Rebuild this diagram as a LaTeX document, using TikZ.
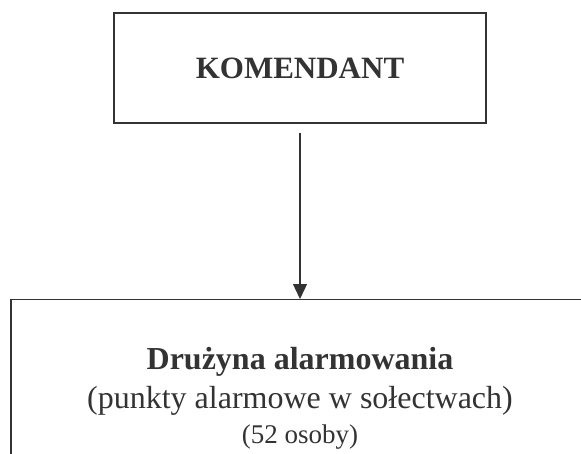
\documentclass[tikz,border=0pt]{standalone}
\usepackage{fontspec}
\setmainfont{Liberation Serif}
\usetikzlibrary{arrows.meta}
\definecolor{ink}{HTML}{333333}
\begin{document}
\begin{tikzpicture}[x=1pt,y=1pt, line width=1.3pt, draw=ink, text=ink,
box/.style={draw=ink,rectangle,inner sep=0pt,align=center}]

\useasboundingbox (0,0) rectangle (581,-453);
\clip (0,0) rectangle (581,-453);

%\fill[white] (0,0) rectangle (581,-453);

\node[box,minimum width=372pt,minimum height=110pt,font=\fontsize{31}{36}\selectfont\bfseries]
(kom) at (300,-68) {KOMENDANT};

\node[box,anchor=north,minimum width=578pt,inner ysep=48pt,font=\fontsize{32}{39}\selectfont]
(druz) at (300,-299) {\textbf{Drużyna alarmowania}\\[0pt]
(punkty alarmowe w sołectwach)\\[-4pt]
{\fontsize{27}{30}\selectfont (52 osoby)}};

\draw[-{Triangle[length=15pt,width=14pt]}, shorten <=9pt] (kom.south) -- (druz.north);

\end{tikzpicture}
\end{document}
